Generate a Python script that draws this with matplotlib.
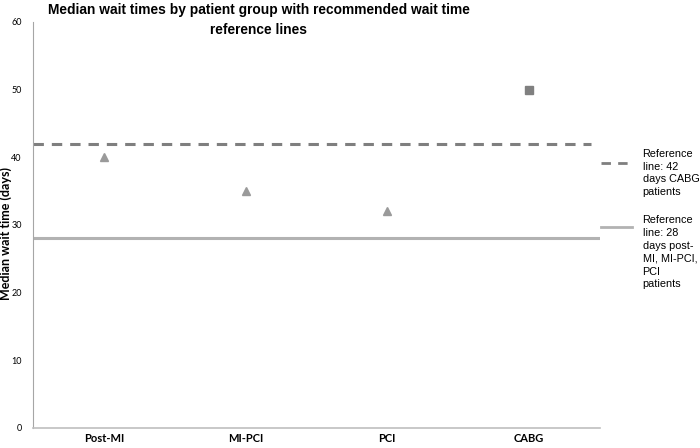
import matplotlib.pyplot as plt
from matplotlib.lines import Line2D

# donnees
groupes = ['Post-MI', 'MI-PCI', 'PCI', 'CABG']
attente = [40, 35, 32, 50]
marqueurs = ['^', '^', '^', 's']
couleurs = ['#9a9a9a', '#9a9a9a', '#9a9a9a', '#808080']
ref_cabg = 42
ref_autres = 28
yticks = [0, 10, 20, 30, 40, 50, 60]

plt.rcParams['font.family'] = ['Liberation Sans', 'DejaVu Sans']

fig = plt.figure(figsize=(7, 4.48), dpi=100)
ax = fig.add_axes([0.047, 0.045, 0.81, 0.906])

x = range(len(groupes))
for xi, yi, m, c in zip(x, attente, marqueurs, couleurs):
    ax.plot(xi, yi, marker=m, color=c, markersize=5.5, linestyle='none')

ax.axhline(ref_cabg, xmin=0, xmax=0.985, color='#7f7f7f', lw=2.2, ls=(0, (3.4, 2.6)))
ax.axhline(ref_autres, xmin=0, xmax=1.0, color='#b2b2b2', lw=2.2)

ax.set_xlim(-0.5, 3.5)
ax.set_ylim(0, 60)
ax.set_yticks(yticks)
ax.set_xticks(list(x))
ax.set_xticklabels(groupes, fontsize=8, fontweight='bold', family=['Lato', 'DejaVu Sans'])
ax.tick_params(axis='y', length=0, labelsize=6.5, pad=8)
ax.tick_params(axis='x', length=0, pad=4)
for lab in ax.get_yticklabels():
    lab.set_family(['Lato', 'DejaVu Sans'])
for s in ['top', 'right']:
    ax.spines[s].set_visible(False)
ax.spines['left'].set_color('#a6a6a6')
ax.spines['bottom'].set_color('#bfbfbf')
ax.spines['left'].set_linewidth(0.8)
ax.spines['bottom'].set_linewidth(1.2)

ax.set_ylabel('Median wait time (days)', fontsize=9, fontweight='bold',
              family=['Lato', 'DejaVu Sans'])
ax.yaxis.set_label_coords(-0.037, 0.48)

fig.text(0.37, 0.993, 'Median wait times by patient group with recommended wait time\nreference lines',
         fontsize=9.9, fontweight='bold', ha='center', va='top', linespacing=1.5)

# legende manuelle
fig.add_artist(Line2D([0.858, 0.903], [0.636, 0.636], color='#7f7f7f', lw=2.0,
                      ls=(0, (3.4, 2.6))))
fig.text(0.918, 0.668, 'Reference\nline: 42\ndays CABG\npatients', fontsize=7.8,
         va='top', ha='left', linespacing=1.36)
fig.add_artist(Line2D([0.858, 0.903], [0.493, 0.493], color='#b2b2b2', lw=2.0))
fig.text(0.918, 0.52, 'Reference\nline: 28\ndays post-\nMI, MI-PCI,\nPCI\npatients', fontsize=7.8,
         va='top', ha='left', linespacing=1.36)

fig.savefig('out.png', dpi=100)
